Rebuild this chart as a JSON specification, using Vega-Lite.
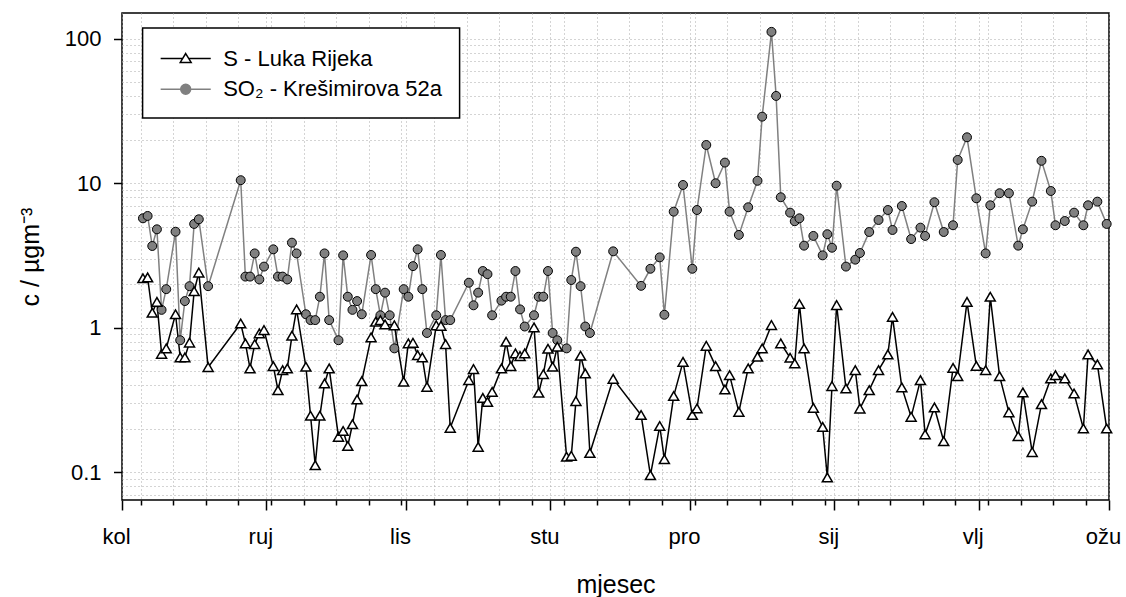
{
  "$schema": "https://vega.github.io/schema/vega-lite/v6.json",
  "width": 987,
  "height": 487,
  "autosize": {"type": "none"},
  "padding": {"left": 122, "top": 13, "right": 17, "bottom": 97},
  "config": {
    "font": "Liberation Sans",
    "view": {"stroke": "black", "strokeWidth": 1.5},
    "axis": {"labelColor": "black", "titleColor": "black", "tickColor": "black"}
  },
  "data": {
    "values": [
      {"datum": "2010-08-05T12:00", "serija": "SO2", "c": 5.72},
      {"datum": "2010-08-06T12:00", "serija": "SO2", "c": 5.94},
      {"datum": "2010-08-07T12:00", "serija": "SO2", "c": 3.68},
      {"datum": "2010-08-08T12:00", "serija": "SO2", "c": 4.80},
      {"datum": "2010-08-09T12:00", "serija": "SO2", "c": 1.33},
      {"datum": "2010-08-10T12:00", "serija": "SO2", "c": 1.85},
      {"datum": "2010-08-12T12:00", "serija": "SO2", "c": 4.62},
      {"datum": "2010-08-13T12:00", "serija": "SO2", "c": 0.82},
      {"datum": "2010-08-14T12:00", "serija": "SO2", "c": 1.53},
      {"datum": "2010-08-15T12:00", "serija": "SO2", "c": 1.94},
      {"datum": "2010-08-16T12:00", "serija": "SO2", "c": 5.23},
      {"datum": "2010-08-17T12:00", "serija": "SO2", "c": 5.63},
      {"datum": "2010-08-19T12:00", "serija": "SO2", "c": 1.94},
      {"datum": "2010-08-26T12:00", "serija": "SO2", "c": 10.5},
      {"datum": "2010-08-27T12:00", "serija": "SO2", "c": 2.26},
      {"datum": "2010-08-28T12:00", "serija": "SO2", "c": 2.26},
      {"datum": "2010-08-29T12:00", "serija": "SO2", "c": 3.27},
      {"datum": "2010-08-30T12:00", "serija": "SO2", "c": 2.16},
      {"datum": "2010-08-31T12:00", "serija": "SO2", "c": 2.65},
      {"datum": "2010-09-02T12:00", "serija": "SO2", "c": 3.49},
      {"datum": "2010-09-03T12:00", "serija": "SO2", "c": 2.26},
      {"datum": "2010-09-04T12:00", "serija": "SO2", "c": 2.26},
      {"datum": "2010-09-05T12:00", "serija": "SO2", "c": 2.16},
      {"datum": "2010-09-06T12:00", "serija": "SO2", "c": 3.88},
      {"datum": "2010-09-07T12:00", "serija": "SO2", "c": 3.27},
      {"datum": "2010-09-09T12:00", "serija": "SO2", "c": 1.24},
      {"datum": "2010-09-10T12:00", "serija": "SO2", "c": 1.13},
      {"datum": "2010-09-11T12:00", "serija": "SO2", "c": 1.13},
      {"datum": "2010-09-12T12:00", "serija": "SO2", "c": 1.64},
      {"datum": "2010-09-13T12:00", "serija": "SO2", "c": 3.27},
      {"datum": "2010-09-14T12:00", "serija": "SO2", "c": 1.13},
      {"datum": "2010-09-16T12:00", "serija": "SO2", "c": 0.82},
      {"datum": "2010-09-17T12:00", "serija": "SO2", "c": 3.17},
      {"datum": "2010-09-18T12:00", "serija": "SO2", "c": 1.64},
      {"datum": "2010-09-19T12:00", "serija": "SO2", "c": 1.33},
      {"datum": "2010-09-20T12:00", "serija": "SO2", "c": 1.53},
      {"datum": "2010-09-21T12:00", "serija": "SO2", "c": 1.24},
      {"datum": "2010-09-23T12:00", "serija": "SO2", "c": 3.19},
      {"datum": "2010-09-24T12:00", "serija": "SO2", "c": 1.85},
      {"datum": "2010-09-25T12:00", "serija": "SO2", "c": 1.22},
      {"datum": "2010-09-26T12:00", "serija": "SO2", "c": 1.75},
      {"datum": "2010-09-27T12:00", "serija": "SO2", "c": 1.22},
      {"datum": "2010-09-28T12:00", "serija": "SO2", "c": 0.72},
      {"datum": "2010-09-30T12:00", "serija": "SO2", "c": 1.85},
      {"datum": "2010-10-01T12:00", "serija": "SO2", "c": 1.64},
      {"datum": "2010-10-02T12:00", "serija": "SO2", "c": 2.67},
      {"datum": "2010-10-03T12:00", "serija": "SO2", "c": 3.49},
      {"datum": "2010-10-04T12:00", "serija": "SO2", "c": 1.85},
      {"datum": "2010-10-05T12:00", "serija": "SO2", "c": 0.92},
      {"datum": "2010-10-07T12:00", "serija": "SO2", "c": 1.22},
      {"datum": "2010-10-08T12:00", "serija": "SO2", "c": 3.19},
      {"datum": "2010-10-09T12:00", "serija": "SO2", "c": 1.13},
      {"datum": "2010-10-10T12:00", "serija": "SO2", "c": 1.13},
      {"datum": "2010-10-14T12:00", "serija": "SO2", "c": 2.05},
      {"datum": "2010-10-15T12:00", "serija": "SO2", "c": 1.43},
      {"datum": "2010-10-16T12:00", "serija": "SO2", "c": 1.75},
      {"datum": "2010-10-17T12:00", "serija": "SO2", "c": 2.47},
      {"datum": "2010-10-18T12:00", "serija": "SO2", "c": 2.35},
      {"datum": "2010-10-19T12:00", "serija": "SO2", "c": 1.22},
      {"datum": "2010-10-21T12:00", "serija": "SO2", "c": 1.54},
      {"datum": "2010-10-22T12:00", "serija": "SO2", "c": 1.64},
      {"datum": "2010-10-23T12:00", "serija": "SO2", "c": 1.64},
      {"datum": "2010-10-24T12:00", "serija": "SO2", "c": 2.47},
      {"datum": "2010-10-25T12:00", "serija": "SO2", "c": 1.34},
      {"datum": "2010-10-26T12:00", "serija": "SO2", "c": 1.02},
      {"datum": "2010-10-28T12:00", "serija": "SO2", "c": 1.22},
      {"datum": "2010-10-29T12:00", "serija": "SO2", "c": 1.64},
      {"datum": "2010-10-30T12:00", "serija": "SO2", "c": 1.64},
      {"datum": "2010-10-31T12:00", "serija": "SO2", "c": 2.47},
      {"datum": "2010-11-01T12:00", "serija": "SO2", "c": 0.92},
      {"datum": "2010-11-02T12:00", "serija": "SO2", "c": 0.82},
      {"datum": "2010-11-04T12:00", "serija": "SO2", "c": 0.72},
      {"datum": "2010-11-05T12:00", "serija": "SO2", "c": 2.14},
      {"datum": "2010-11-06T12:00", "serija": "SO2", "c": 3.36},
      {"datum": "2010-11-07T12:00", "serija": "SO2", "c": 1.94},
      {"datum": "2010-11-08T12:00", "serija": "SO2", "c": 1.02},
      {"datum": "2010-11-09T12:00", "serija": "SO2", "c": 0.92},
      {"datum": "2010-11-14T12:00", "serija": "SO2", "c": 3.38},
      {"datum": "2010-11-20T12:00", "serija": "SO2", "c": 1.95},
      {"datum": "2010-11-22T12:00", "serija": "SO2", "c": 2.56},
      {"datum": "2010-11-24T12:00", "serija": "SO2", "c": 3.07},
      {"datum": "2010-11-25T12:00", "serija": "SO2", "c": 1.23},
      {"datum": "2010-11-27T12:00", "serija": "SO2", "c": 6.36},
      {"datum": "2010-11-29T12:00", "serija": "SO2", "c": 9.73},
      {"datum": "2010-12-01T12:00", "serija": "SO2", "c": 2.56},
      {"datum": "2010-12-02T12:00", "serija": "SO2", "c": 6.53},
      {"datum": "2010-12-04T12:00", "serija": "SO2", "c": 18.4},
      {"datum": "2010-12-06T12:00", "serija": "SO2", "c": 10.0},
      {"datum": "2010-12-08T12:00", "serija": "SO2", "c": 13.9},
      {"datum": "2010-12-09T12:00", "serija": "SO2", "c": 6.36},
      {"datum": "2010-12-11T12:00", "serija": "SO2", "c": 4.39},
      {"datum": "2010-12-13T12:00", "serija": "SO2", "c": 6.82},
      {"datum": "2010-12-15T12:00", "serija": "SO2", "c": 10.4},
      {"datum": "2010-12-16T12:00", "serija": "SO2", "c": 28.9},
      {"datum": "2010-12-18T12:00", "serija": "SO2", "c": 111.6},
      {"datum": "2010-12-19T12:00", "serija": "SO2", "c": 40.2},
      {"datum": "2010-12-20T12:00", "serija": "SO2", "c": 8.0},
      {"datum": "2010-12-22T12:00", "serija": "SO2", "c": 6.26},
      {"datum": "2010-12-23T12:00", "serija": "SO2", "c": 5.46},
      {"datum": "2010-12-24T12:00", "serija": "SO2", "c": 5.72},
      {"datum": "2010-12-25T12:00", "serija": "SO2", "c": 3.70},
      {"datum": "2010-12-27T12:00", "serija": "SO2", "c": 4.32},
      {"datum": "2010-12-29T12:00", "serija": "SO2", "c": 3.17},
      {"datum": "2010-12-30T12:00", "serija": "SO2", "c": 4.44},
      {"datum": "2010-12-31T12:00", "serija": "SO2", "c": 3.58},
      {"datum": "2011-01-01T12:00", "serija": "SO2", "c": 9.62},
      {"datum": "2011-01-03T12:00", "serija": "SO2", "c": 2.65},
      {"datum": "2011-01-05T12:00", "serija": "SO2", "c": 2.96},
      {"datum": "2011-01-06T12:00", "serija": "SO2", "c": 3.29},
      {"datum": "2011-01-08T12:00", "serija": "SO2", "c": 4.60},
      {"datum": "2011-01-10T12:00", "serija": "SO2", "c": 5.57},
      {"datum": "2011-01-12T12:00", "serija": "SO2", "c": 6.53},
      {"datum": "2011-01-13T12:00", "serija": "SO2", "c": 4.75},
      {"datum": "2011-01-15T12:00", "serija": "SO2", "c": 6.96},
      {"datum": "2011-01-17T12:00", "serija": "SO2", "c": 4.11},
      {"datum": "2011-01-19T12:00", "serija": "SO2", "c": 4.93},
      {"datum": "2011-01-20T12:00", "serija": "SO2", "c": 4.32},
      {"datum": "2011-01-22T12:00", "serija": "SO2", "c": 7.39},
      {"datum": "2011-01-24T12:00", "serija": "SO2", "c": 4.60},
      {"datum": "2011-01-26T12:00", "serija": "SO2", "c": 5.12},
      {"datum": "2011-01-27T12:00", "serija": "SO2", "c": 14.5},
      {"datum": "2011-01-29T12:00", "serija": "SO2", "c": 20.8},
      {"datum": "2011-01-31T12:00", "serija": "SO2", "c": 7.87},
      {"datum": "2011-02-02T12:00", "serija": "SO2", "c": 3.27},
      {"datum": "2011-02-03T12:00", "serija": "SO2", "c": 7.04},
      {"datum": "2011-02-05T12:00", "serija": "SO2", "c": 8.53},
      {"datum": "2011-02-07T12:00", "serija": "SO2", "c": 8.53},
      {"datum": "2011-02-09T12:00", "serija": "SO2", "c": 3.70},
      {"datum": "2011-02-10T12:00", "serija": "SO2", "c": 4.80},
      {"datum": "2011-02-12T12:00", "serija": "SO2", "c": 7.46},
      {"datum": "2011-02-14T12:00", "serija": "SO2", "c": 14.3},
      {"datum": "2011-02-16T12:00", "serija": "SO2", "c": 8.84},
      {"datum": "2011-02-17T12:00", "serija": "SO2", "c": 5.12},
      {"datum": "2011-02-19T12:00", "serija": "SO2", "c": 5.48},
      {"datum": "2011-02-21T12:00", "serija": "SO2", "c": 6.26},
      {"datum": "2011-02-23T12:00", "serija": "SO2", "c": 5.12},
      {"datum": "2011-02-24T12:00", "serija": "SO2", "c": 7.04},
      {"datum": "2011-02-26T12:00", "serija": "SO2", "c": 7.46},
      {"datum": "2011-02-28T12:00", "serija": "SO2", "c": 5.23},
      {"datum": "2010-08-05T12:00", "serija": "S", "c": 2.20},
      {"datum": "2010-08-06T12:00", "serija": "S", "c": 2.23},
      {"datum": "2010-08-07T12:00", "serija": "S", "c": 1.27},
      {"datum": "2010-08-08T12:00", "serija": "S", "c": 1.51},
      {"datum": "2010-08-09T12:00", "serija": "S", "c": 0.66},
      {"datum": "2010-08-10T12:00", "serija": "S", "c": 0.72},
      {"datum": "2010-08-12T12:00", "serija": "S", "c": 1.24},
      {"datum": "2010-08-13T12:00", "serija": "S", "c": 0.624},
      {"datum": "2010-08-14T12:00", "serija": "S", "c": 0.624},
      {"datum": "2010-08-15T12:00", "serija": "S", "c": 0.79},
      {"datum": "2010-08-16T12:00", "serija": "S", "c": 1.79},
      {"datum": "2010-08-17T12:00", "serija": "S", "c": 2.41},
      {"datum": "2010-08-19T12:00", "serija": "S", "c": 0.534},
      {"datum": "2010-08-26T12:00", "serija": "S", "c": 1.07},
      {"datum": "2010-08-27T12:00", "serija": "S", "c": 0.78},
      {"datum": "2010-08-28T12:00", "serija": "S", "c": 0.523},
      {"datum": "2010-08-29T12:00", "serija": "S", "c": 0.771},
      {"datum": "2010-08-30T12:00", "serija": "S", "c": 0.915},
      {"datum": "2010-08-31T12:00", "serija": "S", "c": 0.964},
      {"datum": "2010-09-02T12:00", "serija": "S", "c": 0.543},
      {"datum": "2010-09-03T12:00", "serija": "S", "c": 0.37},
      {"datum": "2010-09-04T12:00", "serija": "S", "c": 0.509},
      {"datum": "2010-09-05T12:00", "serija": "S", "c": 0.523},
      {"datum": "2010-09-06T12:00", "serija": "S", "c": 0.88},
      {"datum": "2010-09-07T12:00", "serija": "S", "c": 1.34},
      {"datum": "2010-09-09T12:00", "serija": "S", "c": 0.537},
      {"datum": "2010-09-10T12:00", "serija": "S", "c": 0.246},
      {"datum": "2010-09-11T12:00", "serija": "S", "c": 0.112},
      {"datum": "2010-09-12T12:00", "serija": "S", "c": 0.246},
      {"datum": "2010-09-13T12:00", "serija": "S", "c": 0.412},
      {"datum": "2010-09-14T12:00", "serija": "S", "c": 0.523},
      {"datum": "2010-09-16T12:00", "serija": "S", "c": 0.176},
      {"datum": "2010-09-17T12:00", "serija": "S", "c": 0.193},
      {"datum": "2010-09-18T12:00", "serija": "S", "c": 0.152},
      {"datum": "2010-09-19T12:00", "serija": "S", "c": 0.215},
      {"datum": "2010-09-20T12:00", "serija": "S", "c": 0.319},
      {"datum": "2010-09-21T12:00", "serija": "S", "c": 0.427},
      {"datum": "2010-09-23T12:00", "serija": "S", "c": 0.858},
      {"datum": "2010-09-24T12:00", "serija": "S", "c": 1.10},
      {"datum": "2010-09-25T12:00", "serija": "S", "c": 1.13},
      {"datum": "2010-09-26T12:00", "serija": "S", "c": 1.056},
      {"datum": "2010-09-28T12:00", "serija": "S", "c": 1.04},
      {"datum": "2010-09-30T12:00", "serija": "S", "c": 0.423},
      {"datum": "2010-10-01T12:00", "serija": "S", "c": 0.78},
      {"datum": "2010-10-02T12:00", "serija": "S", "c": 0.787},
      {"datum": "2010-10-03T12:00", "serija": "S", "c": 0.647},
      {"datum": "2010-10-04T12:00", "serija": "S", "c": 0.624},
      {"datum": "2010-10-05T12:00", "serija": "S", "c": 0.39},
      {"datum": "2010-10-07T12:00", "serija": "S", "c": 1.04},
      {"datum": "2010-10-08T12:00", "serija": "S", "c": 1.03},
      {"datum": "2010-10-09T12:00", "serija": "S", "c": 0.771},
      {"datum": "2010-10-10T12:00", "serija": "S", "c": 0.203},
      {"datum": "2010-10-14T12:00", "serija": "S", "c": 0.434},
      {"datum": "2010-10-15T12:00", "serija": "S", "c": 0.518},
      {"datum": "2010-10-16T12:00", "serija": "S", "c": 0.15},
      {"datum": "2010-10-17T12:00", "serija": "S", "c": 0.327},
      {"datum": "2010-10-18T12:00", "serija": "S", "c": 0.307},
      {"datum": "2010-10-19T12:00", "serija": "S", "c": 0.36},
      {"datum": "2010-10-21T12:00", "serija": "S", "c": 0.523},
      {"datum": "2010-10-22T12:00", "serija": "S", "c": 0.80},
      {"datum": "2010-10-23T12:00", "serija": "S", "c": 0.543},
      {"datum": "2010-10-24T12:00", "serija": "S", "c": 0.665},
      {"datum": "2010-10-25T12:00", "serija": "S", "c": 0.637},
      {"datum": "2010-10-26T12:00", "serija": "S", "c": 0.665},
      {"datum": "2010-10-28T12:00", "serija": "S", "c": 1.006},
      {"datum": "2010-10-29T12:00", "serija": "S", "c": 0.355},
      {"datum": "2010-10-30T12:00", "serija": "S", "c": 0.478},
      {"datum": "2010-10-31T12:00", "serija": "S", "c": 0.716},
      {"datum": "2010-11-01T12:00", "serija": "S", "c": 0.537},
      {"datum": "2010-11-02T12:00", "serija": "S", "c": 0.739},
      {"datum": "2010-11-04T12:00", "serija": "S", "c": 0.128},
      {"datum": "2010-11-05T12:00", "serija": "S", "c": 0.13},
      {"datum": "2010-11-06T12:00", "serija": "S", "c": 0.311},
      {"datum": "2010-11-07T12:00", "serija": "S", "c": 0.64},
      {"datum": "2010-11-08T12:00", "serija": "S", "c": 0.483},
      {"datum": "2010-11-09T12:00", "serija": "S", "c": 0.136},
      {"datum": "2010-11-14T12:00", "serija": "S", "c": 0.443},
      {"datum": "2010-11-20T12:00", "serija": "S", "c": 0.249},
      {"datum": "2010-11-22T12:00", "serija": "S", "c": 0.0955},
      {"datum": "2010-11-24T12:00", "serija": "S", "c": 0.209},
      {"datum": "2010-11-25T12:00", "serija": "S", "c": 0.123},
      {"datum": "2010-11-27T12:00", "serija": "S", "c": 0.337},
      {"datum": "2010-11-29T12:00", "serija": "S", "c": 0.581},
      {"datum": "2010-12-01T12:00", "serija": "S", "c": 0.249},
      {"datum": "2010-12-02T12:00", "serija": "S", "c": 0.277},
      {"datum": "2010-12-04T12:00", "serija": "S", "c": 0.75},
      {"datum": "2010-12-06T12:00", "serija": "S", "c": 0.543},
      {"datum": "2010-12-08T12:00", "serija": "S", "c": 0.374},
      {"datum": "2010-12-09T12:00", "serija": "S", "c": 0.47},
      {"datum": "2010-12-11T12:00", "serija": "S", "c": 0.262},
      {"datum": "2010-12-13T12:00", "serija": "S", "c": 0.523},
      {"datum": "2010-12-15T12:00", "serija": "S", "c": 0.63},
      {"datum": "2010-12-16T12:00", "serija": "S", "c": 0.72},
      {"datum": "2010-12-18T12:00", "serija": "S", "c": 1.044},
      {"datum": "2010-12-19T12:00", "serija": "S", "c": null},
      {"datum": "2010-12-20T12:00", "serija": "S", "c": 0.78},
      {"datum": "2010-12-22T12:00", "serija": "S", "c": 0.62},
      {"datum": "2010-12-23T12:00", "serija": "S", "c": 0.567},
      {"datum": "2010-12-24T12:00", "serija": "S", "c": 1.46},
      {"datum": "2010-12-25T12:00", "serija": "S", "c": 0.72},
      {"datum": "2010-12-27T12:00", "serija": "S", "c": 0.279},
      {"datum": "2010-12-29T12:00", "serija": "S", "c": 0.206},
      {"datum": "2010-12-30T12:00", "serija": "S", "c": 0.092},
      {"datum": "2010-12-31T12:00", "serija": "S", "c": 0.395},
      {"datum": "2011-01-01T12:00", "serija": "S", "c": 1.436},
      {"datum": "2011-01-03T12:00", "serija": "S", "c": 0.38},
      {"datum": "2011-01-05T12:00", "serija": "S", "c": 0.509},
      {"datum": "2011-01-06T12:00", "serija": "S", "c": 0.276},
      {"datum": "2011-01-08T12:00", "serija": "S", "c": 0.37},
      {"datum": "2011-01-10T12:00", "serija": "S", "c": 0.509},
      {"datum": "2011-01-12T12:00", "serija": "S", "c": 0.654},
      {"datum": "2011-01-13T12:00", "serija": "S", "c": 1.19},
      {"datum": "2011-01-15T12:00", "serija": "S", "c": 0.387},
      {"datum": "2011-01-17T12:00", "serija": "S", "c": 0.242},
      {"datum": "2011-01-19T12:00", "serija": "S", "c": 0.434},
      {"datum": "2011-01-20T12:00", "serija": "S", "c": 0.183},
      {"datum": "2011-01-22T12:00", "serija": "S", "c": 0.281},
      {"datum": "2011-01-24T12:00", "serija": "S", "c": 0.164},
      {"datum": "2011-01-26T12:00", "serija": "S", "c": 0.528},
      {"datum": "2011-01-27T12:00", "serija": "S", "c": 0.463},
      {"datum": "2011-01-29T12:00", "serija": "S", "c": 1.51},
      {"datum": "2011-01-31T12:00", "serija": "S", "c": 0.545},
      {"datum": "2011-02-02T12:00", "serija": "S", "c": 0.509},
      {"datum": "2011-02-03T12:00", "serija": "S", "c": 1.64},
      {"datum": "2011-02-05T12:00", "serija": "S", "c": 0.463},
      {"datum": "2011-02-07T12:00", "serija": "S", "c": 0.26},
      {"datum": "2011-02-09T12:00", "serija": "S", "c": 0.178},
      {"datum": "2011-02-10T12:00", "serija": "S", "c": 0.357},
      {"datum": "2011-02-12T12:00", "serija": "S", "c": 0.138},
      {"datum": "2011-02-14T12:00", "serija": "S", "c": 0.296},
      {"datum": "2011-02-16T12:00", "serija": "S", "c": 0.446},
      {"datum": "2011-02-17T12:00", "serija": "S", "c": 0.47},
      {"datum": "2011-02-19T12:00", "serija": "S", "c": 0.446},
      {"datum": "2011-02-21T12:00", "serija": "S", "c": 0.351},
      {"datum": "2011-02-23T12:00", "serija": "S", "c": 0.201},
      {"datum": "2011-02-24T12:00", "serija": "S", "c": 0.654},
      {"datum": "2011-02-26T12:00", "serija": "S", "c": 0.558},
      {"datum": "2011-02-28T12:00", "serija": "S", "c": 0.201}
    ]
  },
  "encoding": {
    "x": {
      "field": "datum",
      "type": "temporal",
      "scale": {"domain": [{"year": 2010, "month": 8, "date": 1}, {"year": 2011, "month": 3, "date": 1}]},
      "axis": {
        "values": [
          {"year": 2010, "month": 8, "date": 1}, {"year": 2010, "month": 9, "date": 1}, {"year": 2010, "month": 10, "date": 1},
          {"year": 2010, "month": 11, "date": 1}, {"year": 2010, "month": 12, "date": 1}, {"year": 2011, "month": 1, "date": 1},
          {"year": 2011, "month": 2, "date": 1}, {"year": 2011, "month": 3, "date": 1},
          {"year": 2010, "month": 8, "date": 5}, {"year": 2010, "month": 8, "date": 12}, {"year": 2010, "month": 8, "date": 19}, {"year": 2010, "month": 8, "date": 26},
          {"year": 2010, "month": 9, "date": 2}, {"year": 2010, "month": 9, "date": 9}, {"year": 2010, "month": 9, "date": 16}, {"year": 2010, "month": 9, "date": 23}, {"year": 2010, "month": 9, "date": 30},
          {"year": 2010, "month": 10, "date": 7}, {"year": 2010, "month": 10, "date": 14}, {"year": 2010, "month": 10, "date": 21}, {"year": 2010, "month": 10, "date": 28},
          {"year": 2010, "month": 11, "date": 4}, {"year": 2010, "month": 11, "date": 11}, {"year": 2010, "month": 11, "date": 18}, {"year": 2010, "month": 11, "date": 25},
          {"year": 2010, "month": 12, "date": 2}, {"year": 2010, "month": 12, "date": 9}, {"year": 2010, "month": 12, "date": 16}, {"year": 2010, "month": 12, "date": 23}, {"year": 2010, "month": 12, "date": 30},
          {"year": 2011, "month": 1, "date": 6}, {"year": 2011, "month": 1, "date": 13}, {"year": 2011, "month": 1, "date": 20}, {"year": 2011, "month": 1, "date": 27},
          {"year": 2011, "month": 2, "date": 3}, {"year": 2011, "month": 2, "date": 10}, {"year": 2011, "month": 2, "date": 17}, {"year": 2011, "month": 2, "date": 24}
        ],
        "labelExpr": "date(datum.value) == 1 ? ['sij','vlj','ožu','tra','svi','lip','srp','kol','ruj','lis','stu','pro'][month(datum.value)] : ''",
        "labelFontSize": 22,
        "labelOffset": -6,
        "labelPadding": 16,
        "labelFlush": false,
        "labelOverlap": false,
        "labelBound": false,
        "tickSize": {"condition": {"test": "date(datum.value) == 1", "value": 10}, "value": 5},
        "tickWidth": 1.5,
        "domain": false,
        "grid": true,
        "gridColor": "#a8a8a8",
        "gridDash": [1, 3],
        "gridWidth": 1,
        "title": "mjesec",
        "titleFontSize": 25,
        "titleFontWeight": "normal",
        "titleBaseline": "alphabetic",
        "titleY": 92
      }
    },
    "y": {
      "field": "c",
      "type": "quantitative",
      "scale": {"type": "log", "domain": [0.0643, 150.7], "nice": false},
      "axis": {
        "values": [0.07, 0.08, 0.09, 0.1, 0.2, 0.3, 0.4, 0.5, 0.6, 0.7, 0.8, 0.9, 1, 2, 3, 4, 5, 6, 7, 8, 9, 10, 20, 30, 40, 50, 60, 70, 80, 90, 100],
        "format": "~g",
        "labelExpr": "abs(log(datum.value)/LN10 - round(log(datum.value)/LN10)) < 0.001 ? datum.label : ''",
        "labelFontSize": 22,
        "labelPadding": 12.5,
        "labelFlush": false,
        "labelOverlap": false,
        "labelBound": false,
        "tickSize": {"condition": {"test": "abs(log(datum.value)/LN10 - round(log(datum.value)/LN10)) < 0.001", "value": 8.5}, "value": 0},
        "tickWidth": 1.5,
        "domain": false,
        "grid": true,
        "gridColor": "#a8a8a8",
        "gridDash": [1, 3],
        "gridWidth": 1,
        "title": "c / µgm⁻³",
        "titleFontSize": 25,
        "titleFontWeight": "normal",
        "titleAngle": -90,
        "titleAlign": "center",
        "titleBaseline": "middle",
        "titleX": -92,
        "titleY": 243.5
      }
    }
  },
  "layer": [
    {
      "mark": {"type": "line", "strokeWidth": 1.5},
      "encoding": {
        "color": {
          "field": "serija",
          "type": "nominal",
          "scale": {"domain": ["S", "SO2"], "range": ["black", "#808080"]},
          "legend": {
            "title": null,
            "orient": "none",
            "legendX": 20.6,
            "legendY": 15,
            "padding": 17,
            "fillColor": "white",
            "strokeColor": "black",
            "labelFontSize": 22,
            "labelColor": "black",
            "labelLimit": 500,
            "labelOffset": 24,
            "rowPadding": 5.8,
            "symbolSize": 615,
            "symbolOffset": 12.6,
            "symbolType": "M-2,0L2,0",
            "labelExpr": "datum.label == 'S' ? 'S - Luka Rijeka' : 'SO₂ - Krešimirova 52a\u00a0\u00a0'",
            "encode": {
              "legend": {"update": {"strokeWidth": {"value": 1.5}}},
              "symbols": {
                "update": {
                  "shape": {"signal": "datum.value == 'S' ? 'M-2.02,0L-0.24,0M0.24,0L2.02,0M0,-0.4L0.44,0.32L-0.44,0.32Z' : 'M-2.02,0L-0.4,0M0.4,0L2.02,0M0.4,0A0.4,0.4 0 1,1 -0.4,0A0.4,0.4 0 1,1 0.4,0Z'"},
                  "fill": {"signal": "datum.value == 'S' ? 'white' : '#808080'"},
                  "stroke": {"signal": "datum.value == 'S' ? 'black' : '#6a6a6a'"},
                  "strokeWidth": {"value": 1.5},
                  "opacity": {"value": 1}
                }
              }
            }
          }
        }
      }
    },
    {
      "transform": [{"filter": "datum.serija == 'SO2'"}],
      "mark": {"type": "point", "shape": "circle", "fill": "#808080", "stroke": "black", "strokeWidth": 1, "size": 80, "opacity": 1}
    },
    {
      "transform": [{"filter": "datum.serija == 'S'"}],
      "mark": {"type": "point", "shape": "triangle-up", "fill": "white", "stroke": "black", "strokeWidth": 1.5, "size": 100, "opacity": 1}
    }
  ]
}
